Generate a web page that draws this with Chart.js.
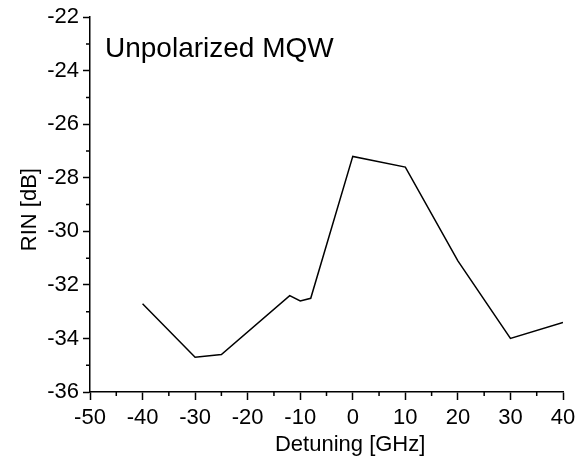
<!DOCTYPE html>
<html>
<head>
<meta charset="utf-8">
<script src="https://cdn.jsdelivr.net/npm/chart.js@4"></script>
<style>
  html, body { margin: 0; padding: 0; background: #fff; }
  #wrap { width: 586px; height: 460px; }
</style>
</head>
<body>
<div id="wrap"><canvas id="rinChart" width="586" height="460"></canvas></div>
<script>
// detuning values [GHz] and measured RIN [dB]
const detuning = [-40, -30, -25, -12, -10, -8, 0, 10, 20, 30, 40];
const rin = [-32.7, -34.7, -34.6, -32.4, -32.6, -32.5, -27.2, -27.6, -31.1, -34.0, -33.4];

const xTicks = [-50, -40, -30, -20, -10, 0, 10, 20, 30, 40];
const yTicks = [-36, -34, -32, -30, -28, -26, -24, -22];
const xMinor = [-45, -35, -25, -15, -5, 5, 15, 25, 35];
const yMinor = [-35, -33, -31, -29, -27, -25, -23];

const labelText = 'Unpolarized MQW';
const xTitle = 'Detuning [GHz]';
const yTitle = 'RIN [dB]';

const fontFamily = 'Arial, "Liberation Sans", sans-serif';

// minor ticks + axis titles + inset label
const extras = {
  id: 'extras',
  afterDraw(chart) {
    const ctx = chart.ctx;
    const xs = chart.scales.x, ys = chart.scales.y;
    const area = chart.chartArea;
    ctx.save();
    ctx.strokeStyle = '#000';
    ctx.lineWidth = 1.5;
    ctx.beginPath();
    xMinor.forEach(v => {
      const px = xs.getPixelForValue(v);
      ctx.moveTo(px, area.bottom);
      ctx.lineTo(px, area.bottom + 4);
    });
    yMinor.forEach(v => {
      const py = ys.getPixelForValue(v);
      ctx.moveTo(area.left, py);
      ctx.lineTo(area.left - 4, py);
    });
    ctx.stroke();

    ctx.fillStyle = '#000';
    ctx.font = '22px ' + fontFamily;
    ctx.textAlign = 'center';
    ctx.textBaseline = 'alphabetic';
    ctx.fillText(xTitle, xs.getPixelForValue(-0.5), 451);

    ctx.save();
    ctx.translate(36, (area.top + area.bottom) / 2 + 5);
    ctx.rotate(-Math.PI / 2);
    ctx.fillText(yTitle, 0, 0);
    ctx.restore();

    ctx.font = '28px ' + fontFamily;
    ctx.textAlign = 'left';
    ctx.fillText(labelText, 105, 57);
    ctx.restore();
  }
};

new Chart(document.getElementById('rinChart'), {
  type: 'scatter',
  data: {
    datasets: [{
      data: detuning.map((d, i) => ({ x: d, y: rin[i] })),
      showLine: true,
      borderColor: '#000',
      borderWidth: 1.5,
      pointRadius: 0,
      tension: 0,
      fill: false
    }]
  },
  options: {
    responsive: false,
    animation: false,
    layout: { padding: { left: 0, right: 23, top: 14, bottom: 0 } },
    plugins: {
      legend: { display: false },
      tooltip: { enabled: false }
    },
    scales: {
      x: {
        type: 'linear',
        min: -50,
        max: 40,
        afterBuildTicks(scale) { scale.ticks = xTicks.map(v => ({ value: v })); },
        afterFit(scale) { scale.height = 68; },
        grid: { drawOnChartArea: false, tickLength: 8, tickColor: '#000', tickWidth: 1.5 },
        border: { display: true, color: '#000', width: 1.5 },
        ticks: { color: '#000', padding: 5, maxRotation: 0, font: { family: fontFamily, size: 22 } }
      },
      y: {
        type: 'linear',
        min: -36,
        max: -22,
        afterBuildTicks(scale) { scale.ticks = yTicks.map(v => ({ value: v })); },
        afterFit(scale) { scale.width = 90; },
        grid: { drawOnChartArea: false, tickLength: 7, tickColor: '#000', tickWidth: 1.5 },
        border: { display: true, color: '#000', width: 1.5 },
        ticks: { color: '#000', padding: 4, font: { family: fontFamily, size: 22 } }
      }
    }
  },
  plugins: [extras]
});
</script>
</body>
</html>
